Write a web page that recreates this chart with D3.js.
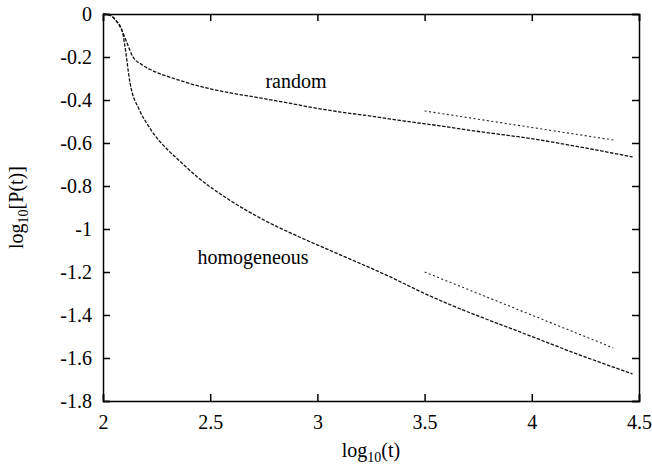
<!DOCTYPE html>
<html>
<head>
<meta charset="utf-8">
<script src="https://cdn.jsdelivr.net/npm/d3@7"></script>
<style>
  body { margin: 0; background: #fff; }
</style>
</head>
<body>
<svg id="chart" width="652" height="468"></svg>
<script>
// log10(t) vs log10[P(t)]
const randomX = [2.0, 2.03, 2.06, 2.09, 2.11, 2.14, 2.18, 2.22, 2.28, 2.33, 2.42, 2.5, 2.6, 2.73, 2.87, 2.965, 3.1, 3.25, 3.385, 3.57, 3.74, 4.0, 4.2, 4.47];
const randomY = [0, -0.005, -0.03, -0.08, -0.13, -0.2, -0.235, -0.258, -0.283, -0.3, -0.328, -0.348, -0.368, -0.39, -0.415, -0.433, -0.455, -0.475, -0.495, -0.52, -0.545, -0.58, -0.614, -0.665];

const homoX = [2.0, 2.03, 2.06, 2.09, 2.1, 2.126, 2.17, 2.205, 2.25, 2.3, 2.345, 2.44, 2.59, 2.75, 2.9, 3.06, 3.34, 3.5, 4.0, 4.2, 4.47];
const homoY = [0, -0.005, -0.03, -0.08, -0.135, -0.32, -0.447, -0.51, -0.575, -0.63, -0.672, -0.758, -0.865, -0.958, -1.03, -1.1, -1.223, -1.3, -1.5, -1.577, -1.674];

// power-law guide lines (start/end points)
const guideRandomX = [3.5, 4.38];
const guideRandomY = [-0.451, -0.586];
const guideHomoX = [3.5, 4.38];
const guideHomoY = [-1.2, -1.553];

const xTicks = [2, 2.5, 3, 3.5, 4, 4.5];
const yTicks = [0, -0.2, -0.4, -0.6, -0.8, -1, -1.2, -1.4, -1.6, -1.8];

const FONT = "'Liberation Serif', 'Times New Roman', Times, serif";
const FS = 20;

const width = 652, height = 468;
const margin = { top: 14, right: 13, bottom: 67, left: 103 };
const w = width - margin.left - margin.right;
const h = height - margin.top - margin.bottom;

const svg = d3.select("#chart");
const g = svg.append("g").attr("transform", `translate(${margin.left},${margin.top})`);

const x = d3.scaleLinear().domain([2, 4.5]).range([0, w]);
const y = d3.scaleLinear().domain([-1.8, 0]).range([h, 0]);

const fmt = (d) => String(d);

// Axes, ticks pointing inward
const styleLabels = (a) =>
  a.attr("font-family", FONT)
    .selectAll("text")
    .attr("font-family", FONT)
    .attr("font-size", FS)
    .attr("fill", "#000");

g.append("g")
  .attr("transform", `translate(0,${h})`)
  .call(d3.axisBottom(x).tickValues(xTicks).tickFormat(fmt).tickSize(-7).tickPadding(14))
  .call(styleLabels);

g.append("g")
  .call(d3.axisLeft(y).tickValues(yTicks).tickFormat(fmt).tickSize(-7).tickPadding(11))
  .call(styleLabels);

g.append("g")
  .call(d3.axisTop(x).tickValues(xTicks).tickFormat("").tickSize(-7));

g.append("g")
  .attr("transform", `translate(${w},0)`)
  .call(d3.axisRight(y).tickValues(yTicks).tickFormat("").tickSize(-7));

g.selectAll(".domain").attr("stroke", "#000").attr("stroke-width", 1.5);
g.selectAll(".tick line").attr("stroke", "#000").attr("stroke-width", 1.5);

// Curves
const line = d3.line()
  .x((d) => x(d[0]))
  .y((d) => y(d[1]))
  .curve(d3.curveMonotoneX);

const series = [
  { xs: randomX, ys: randomY },
  { xs: homoX, ys: homoY }
];

series.forEach((s) => {
  g.append("path")
    .datum(s.xs.map((v, i) => [v, s.ys[i]]))
    .attr("fill", "none")
    .attr("stroke", "#111")
    .attr("stroke-width", 1.3)
    .attr("stroke-dasharray", "3.5,1.5")
    .attr("d", line);
});

[
  { xs: guideRandomX, ys: guideRandomY },
  { xs: guideHomoX, ys: guideHomoY }
].forEach((s) => {
  g.append("path")
    .datum(s.xs.map((v, i) => [v, s.ys[i]]))
    .attr("fill", "none")
    .attr("stroke", "#222")
    .attr("stroke-width", 1.1)
    .attr("stroke-dasharray", "2,2.5")
    .attr("d", d3.line().x((d) => x(d[0])).y((d) => y(d[1])));
});

// Curve labels
g.append("text")
  .attr("x", x(2.9)).attr("y", y(-0.345))
  .attr("text-anchor", "middle").attr("font-size", FS).attr("font-family", FONT)
  .text("random");

g.append("text")
  .attr("x", x(2.7)).attr("y", y(-1.163))
  .attr("text-anchor", "middle").attr("font-size", FS).attr("font-family", FONT)
  .text("homogeneous");

// Axis titles
const xt = svg.append("text")
  .attr("x", margin.left + w / 2).attr("y", 457)
  .attr("text-anchor", "middle").attr("font-size", FS).attr("font-family", FONT);
xt.append("tspan").text("log");
xt.append("tspan").attr("font-size", 14).attr("dy", 5).text("10");
xt.append("tspan").attr("dy", -5).text("(t)");

const yt = svg.append("text")
  .attr("transform", `translate(23,${margin.top + h / 2}) rotate(-90)`)
  .attr("text-anchor", "middle").attr("font-size", FS).attr("font-family", FONT);
yt.append("tspan").text("log");
yt.append("tspan").attr("font-size", 14).attr("dy", 5).text("10");
yt.append("tspan").attr("dy", -5).text("[P(t)]");
</script>
</body>
</html>
